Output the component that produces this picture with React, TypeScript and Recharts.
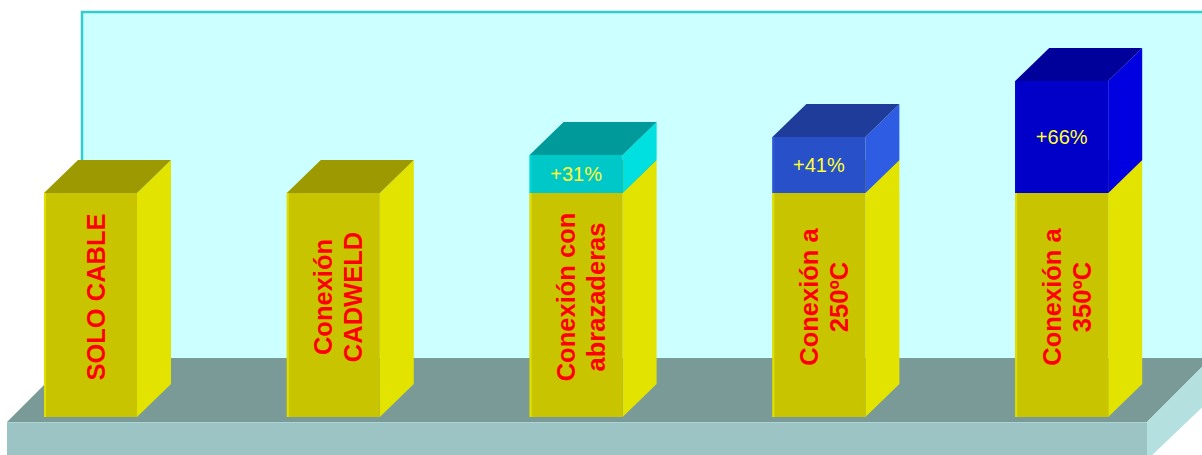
import { Bar, BarChart, LabelList, ReferenceArea, XAxis, YAxis } from "recharts";

// categories and values (base = 100)
const categories = [
  "SOLO CABLE",
  "Conexión\nCADWELD",
  "Conexión con\nabrazaderas",
  "Conexión a\n250ºC",
  "Conexión a\n350ºC",
];
const baseValues = [100, 100, 100, 100, 100];
const extraValues = [0, 0, 17, 25, 50];
const extraLabels = ["", "", "+31%", "+41%", "+66%"];

const data = categories.map((name, i) => ({
  name,
  base: baseValues[i],
  extra: extraValues[i],
  pct: extraLabels[i],
}));

const FONT = '"Liberation Sans", Arial, sans-serif';
const DX = 34;
const DY = 33;

type Faces = { front: string; side: string; top: string; edge: string };

const BASE_FACES: Faces = {
  front: "#c9c400",
  side: "#e3e300",
  top: "#9c9a00",
  edge: "#e0e000",
};

const EXTRA_FACES: Faces[] = [
  BASE_FACES,
  BASE_FACES,
  { front: "#00c8c8", side: "#00e0e0", top: "#009a9a", edge: "#00d8d8" },
  { front: "#2850c8", side: "#2e5ce3", top: "#203c9a", edge: "#2e5ad8" },
  { front: "#0000c8", side: "#0000e0", top: "#00009a", edge: "#0000d8" },
];

function Box({ x, y, width, height, faces }: any) {
  if (!height || height <= 0) return <g />;
  const r = x + width;
  const b = y + height;
  return (
    <g>
      <polygon
        points={`${r},${b} ${r + DX},${b - DY} ${r + DX},${y - DY} ${r},${y}`}
        fill={faces.side}
      />
      <polygon
        points={`${x},${y} ${x + DX},${y - DY} ${r + DX},${y - DY} ${r},${y}`}
        fill={faces.top}
      />
      <rect x={x} y={y} width={width} height={height} fill={faces.front} />
      <rect x={x} y={y} width={2} height={height} fill={faces.edge} />
    </g>
  );
}

function BaseShape(props: any) {
  return <Box {...props} faces={BASE_FACES} />;
}

function ExtraShape(props: any) {
  return <Box {...props} faces={EXTRA_FACES[props.index] ?? BASE_FACES} />;
}

// wall + floor behind the bars
function Stage(props: any) {
  const { y, height } = props;
  const bottom = y + height;
  const frontY = bottom + 5;
  const depth = 64;
  const left = 7;
  const right = 1147;
  const backY = frontY - depth;
  const wallTop = 12;
  const wallLeft = 82;
  return (
    <g>
      <rect
        x={wallLeft}
        y={wallTop}
        width={1300}
        height={backY - wallTop + 2}
        fill="#ccffff"
        stroke="#33cccc"
        strokeWidth={2.5}
      />
      <polygon
        points={`${left},${frontY} ${left + depth},${backY} ${right + depth},${backY} ${right},${frontY}`}
        fill="#7a9a98"
      />
      <rect x={left} y={frontY} width={right - left} height={60} fill="#9cc4c4" />
      <line x1={left} y1={frontY + 0.5} x2={right} y2={frontY + 0.5} stroke="#acd4d4" />
      <polygon
        points={`${right},${frontY} ${right + depth},${backY} ${right + depth},${backY + 41} ${right},${frontY + 38}`}
        fill="#b4e0e0"
      />
    </g>
  );
}

function NameLabel(props: any) {
  const { x, y, width, height, value } = props;
  const lines = String(value ?? "").split("\n");
  const cx = x + width / 2 + 5;
  const cy = y + height / 2 - 8;
  const gap = 30;
  return (
    <text
      transform={`rotate(-90, ${cx}, ${cy})`}
      x={cx}
      y={cy}
      textAnchor="middle"
      fill="#ff0000"
      fontFamily={FONT}
      fontWeight="bold"
      fontSize={25.5}
    >
      {lines.map((line, i) => (
        <tspan key={i} x={cx} y={cy + (i - (lines.length - 1) / 2) * gap + 9}>
          {line}
        </tspan>
      ))}
    </text>
  );
}

function PctLabel(props: any) {
  const { x, y, width, height, value } = props;
  if (!value || !height) return null;
  return (
    <text
      x={x + width / 2}
      y={y + height / 2 + 7}
      textAnchor="middle"
      fill="#ffff33"
      fontFamily={FONT}
      fontSize={20}
    >
      {value}
    </text>
  );
}

export default function App() {
  return (
    <div style={{ width: 1202, height: 455, overflow: "hidden" }}>
      <style>{"body{margin:0}"}</style>
      <BarChart
        width={1202}
        height={455}
        data={data}
        margin={{ top: 81, right: 19, bottom: 38, left: -31 }}
        barSize={93}
      >
        <XAxis dataKey="name" hide />
        <YAxis domain={[0, 150]} hide />
        <ReferenceArea y1={0} y2={150} ifOverflow="visible" shape={Stage} />
        <Bar
          dataKey="base"
          stackId="a"
          shape={BaseShape}
          isAnimationActive={false}
        >
          <LabelList dataKey="name" content={NameLabel} />
        </Bar>
        <Bar
          dataKey="extra"
          stackId="a"
          shape={ExtraShape}
          isAnimationActive={false}
        >
          <LabelList dataKey="pct" content={PctLabel} />
        </Bar>
      </BarChart>
    </div>
  );
}
